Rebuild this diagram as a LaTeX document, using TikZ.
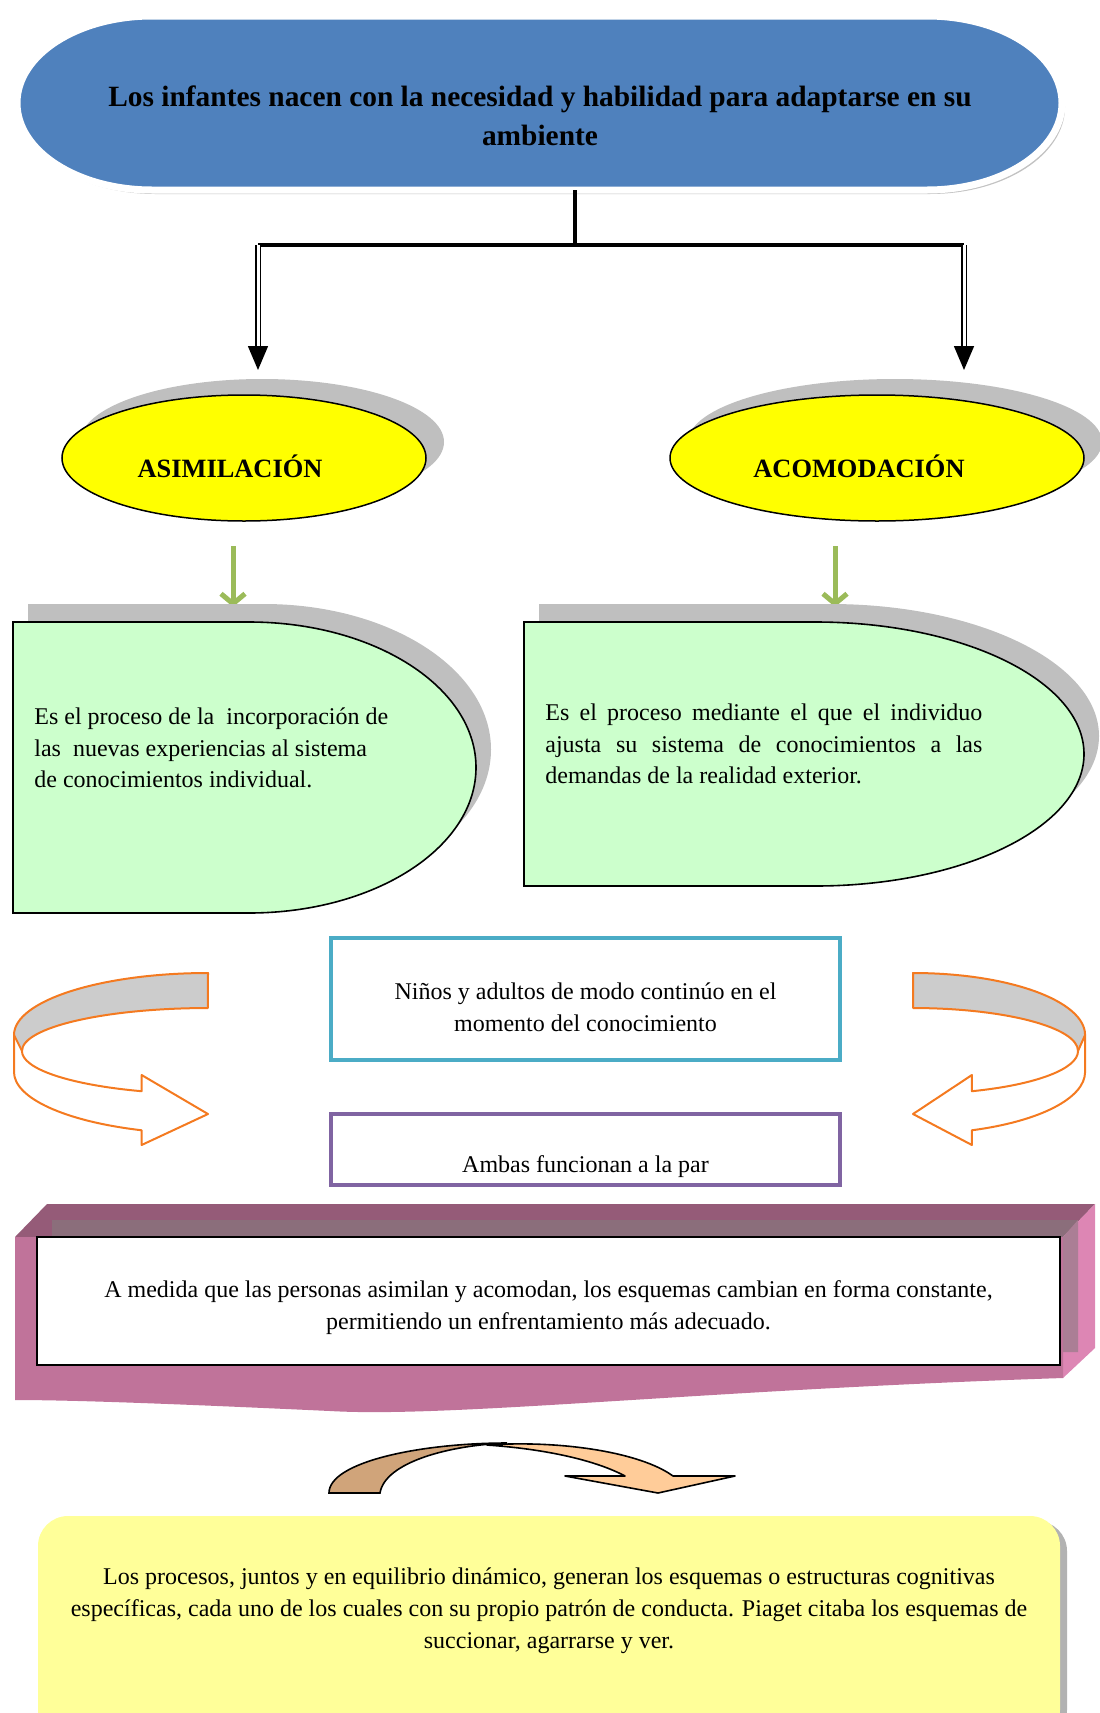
\documentclass[tikz,border=0pt]{standalone}
\usepackage{fontspec}
\setmainfont{Liberation Serif}
\usetikzlibrary{arrows.meta,shapes.geometric,shadows}

\definecolor{azulTitulo}{HTML}{4F81BD}
\definecolor{amarillo}{HTML}{FFFF00}
\definecolor{sombra}{HTML}{BFBFBF}
\definecolor{verdeClaro}{HTML}{CCFFCC}
\definecolor{verdeFlecha}{HTML}{9BBB59}
\definecolor{cian}{HTML}{4BACC6}
\definecolor{violeta}{HTML}{8064A2}
\definecolor{naranja}{HTML}{F47A20}
\definecolor{grisBanda}{HTML}{CCCCCC}
\definecolor{rosaTapa}{HTML}{955B78}
\definecolor{rosaFrente}{HTML}{C0739A}
\definecolor{rosaLado}{HTML}{DD86B4}
\definecolor{rosaFondo}{HTML}{8B6E7B}
\definecolor{rosaFondoLado}{HTML}{AB7E95}
\definecolor{tostado}{HTML}{D0A47A}
\definecolor{durazno}{HTML}{FFCC99}
\definecolor{amarilloPalido}{HTML}{FFFF99}

\begin{document}
\begin{tikzpicture}[
        x=0.5pt, y=-0.5pt,
        texto/.style={font=\fontsize{12}{15.9}\selectfont},
        titulo/.style={
          minimum width=522pt,
          minimum height=87pt,
          align=center,
          text height=42.8pt,
          text depth=0.5pt,
          font=\bfseries\fontsize{14.7}{19.5}\selectfont
        },
        fondoTitulo/.style={
          fill=azulTitulo,
          draw=white,
          line width=3.5pt,
          drop shadow={shadow xshift=1.5pt, shadow yshift=-2pt, fill=black!40, opacity=0.6}
        },
        concepto/.style={
          ellipse,
          draw,
          line width=0.75pt,
          fill=amarillo,
          minimum width=182pt,
          minimum height=63pt,
          text height=19.5pt,
          text depth=0pt,
          font=\bfseries\fontsize{13.2}{16}\selectfont,
          drop shadow={shadow xshift=9pt, shadow yshift=8pt, fill=sombra, opacity=1}
        },
        caja/.style={
          draw,
          line width=2pt,
          minimum width=254.5pt,
          align=center,
          texto
        },
        tronco/.style={line width=2pt},
        doble/.style={double, double distance=1.5pt, line width=0.75pt,
          -{Triangle[length=12pt,width=10pt]}},
        verde/.style={verdeFlecha, line width=2.5pt,
          -{Straight Barb[length=5pt,width=12pt]}},
        giro/.pic={
          \fill[grisBanda] (0,0) arc[start angle=90,end angle=180,x radius=97pt,y radius=31pt]
            -- (-186,78) arc[start angle=180,end angle=90,x radius=93pt,y radius=21.5pt] -- cycle;
          \draw[naranja, line width=1pt, line join=round]
            (0,0) arc[start angle=90,end angle=180,x radius=97pt,y radius=31pt]
            -- (-194,99) arc[start angle=180,end angle=250,x radius=97pt,y radius=31pt]
            -- (-66.4,172) -- (0,141) -- (-66.4,102) -- (-66.4,118.2)
            arc[start angle=249.1,end angle=180,x radius=93pt,y radius=21.5pt]
            arc[start angle=180,end angle=90,x radius=93pt,y radius=21.5pt] -- cycle;
          \draw[naranja, line width=1pt] (-194,62) -- (-186,78);
        }
      ]
      \useasboundingbox (0,0) rectangle (1099,1713);

      \path[fondoTitulo] (152,16) -- (927,16)
        arc[start angle=90,end angle=-90,x radius=67.5pt,y radius=43.5pt] -- (152,190)
        arc[start angle=270,end angle=90,x radius=67.5pt,y radius=43.5pt] -- cycle;
      \node[titulo] (raiz) at (540,103)
        {Los infantes nacen con la necesidad y habilidad para adaptarse en su\\ambiente};

      \coordinate (rama) at (575,245);
      \coordinate (izq) at (258,245);
      \coordinate (der) at (964,245);
      \coordinate (puntaI) at (258,370);
      \coordinate (puntaD) at (964,370);
      \draw[tronco] (raiz.south -| rama) -- (rama);
      \draw[tronco] (izq) -- (der);
      \draw[doble] (izq) -- (puntaI);
      \draw[doble] (der) -- (puntaD);

      \node[concepto] (asim) at (244,458) {\hspace*{-14pt}ASIMILACIÓN};
      \node[concepto, minimum width=207pt] (acom) at (877,458) {\hspace*{-18pt}ACOMODACIÓN};

      \coordinate (gA) at (233,546);
      \coordinate (gAfin) at (233,607);
      \coordinate (gB) at (835,546);
      \coordinate (gBfin) at (835,607);
      \draw[verde] (gA) -- (gAfin);
      \draw[verde] (gB) -- (gBfin);

      % cuadros verdes
      \fill[sombra] (28,604) -- (264,604)
        arc[start angle=90,end angle=-90,x radius=113.5pt,y radius=72.75pt] -- (28,895) -- cycle;
      \filldraw[fill=verdeClaro, line width=0.8pt] (13,622) -- (249,622)
        arc[start angle=90,end angle=-90,x radius=113.5pt,y radius=72.75pt] -- (13,913) -- cycle;
      \fill[sombra] (539,604) -- (830,604)
        arc[start angle=90,end angle=-90,x radius=134.5pt,y radius=66pt] -- (539,868) -- cycle;
      \filldraw[fill=verdeClaro, line width=0.8pt] (524,622) -- (815,622)
        arc[start angle=90,end angle=-90,x radius=134.5pt,y radius=66pt] -- (524,886) -- cycle;

      \node[texto, anchor=west, align=left, inner sep=0pt] (textoAsim) at (34,748)
        {Es el proceso de la\ \ incorporación de\\las\ \ nuevas experiencias al sistema\\de conocimientos individual.};
      \node[texto, anchor=west, align=left, inner sep=0pt] (textoAcom) at (545,744)
        {\makebox[218.5pt][s]{Es el proceso mediante el que el individuo}\\
         \makebox[218.5pt][s]{ajusta su sistema de conocimientos a las}\\
         demandas de la realidad exterior.};

      \node[caja, draw=cian, minimum height=61pt, text height=34.6pt, text depth=2.6pt] (ninos)
        at (585.5,999) {Niños y adultos de modo continúo en el\\momento del conocimiento};
      \node[caja, draw=violeta, minimum height=35.5pt, text height=23pt, text depth=0.5pt] (ambas)
        at (585.5,1149.5) {Ambas funcionan a la par};

      \pic at (208,973) {giro};
      \pic[xscale=-0.887] at (913,973) {giro};

      % cinta rosa
      \fill[rosaTapa] (15,1237) -- (47,1204) -- (1095,1204) -- (1063,1237) -- cycle;
      \fill[rosaFondo] (52,1220) -- (1078,1220) -- (1063,1237) -- (52,1237) -- cycle;
      \fill[rosaLado] (1063,1237) -- (1095,1204) -- (1095,1348) -- (1063,1378) -- cycle;
      \fill[rosaFondoLado] (1063,1237) -- (1078,1220) -- (1078,1352) -- (1063,1352) -- cycle;
      \fill[rosaFrente] (15,1237) -- (1063,1237) -- (1063,1378)
        .. controls (700,1390) and (450,1418) .. (330,1411)
        .. controls (200,1405) and (80,1400) .. (15,1400) -- cycle;
      \node[draw, fill=white, line width=1pt, minimum width=511.5pt, minimum height=64pt,
        align=center, text height=30.9pt, text depth=2.6pt, texto] (resumen) at (548.5,1301)
        {A medida que las personas asimilan y acomodan, los esquemas cambian en forma constante,\\permitiendo un enfrentamiento más adecuado.};

      \filldraw[fill=tostado, line width=0.8pt] (329,1493)
        .. controls (329,1462) and (420,1443) .. (507,1443)
        .. controls (450,1445) and (385,1462) .. (380,1493) -- cycle;
      \filldraw[fill=durazno, line width=0.8pt, line join=round] (487,1445)
        .. controls (560,1440) and (640,1452) .. (673,1476)
        -- (735,1476) -- (658,1493) -- (565,1476) -- (625,1476)
        .. controls (595,1460) and (545,1449) .. (487,1445) -- cycle;

      \fill[black!30, rounded corners=15pt] (45,1740) -- (45,1521) -- (1067,1521) -- (1067,1740) -- cycle;
      \fill[amarilloPalido, rounded corners=15pt] (38,1740) -- (38,1516) -- (1060,1516) -- (1060,1740) -- cycle;
      \node[texto, align=center] (final) at (549,1611)
        {Los procesos, juntos y en equilibrio dinámico, generan los esquemas o estructuras cognitivas\\específicas, cada uno de los cuales con su propio patrón de conducta. Piaget citaba los esquemas de\\succionar, agarrarse y ver.};
    \end{tikzpicture}
\end{document}
